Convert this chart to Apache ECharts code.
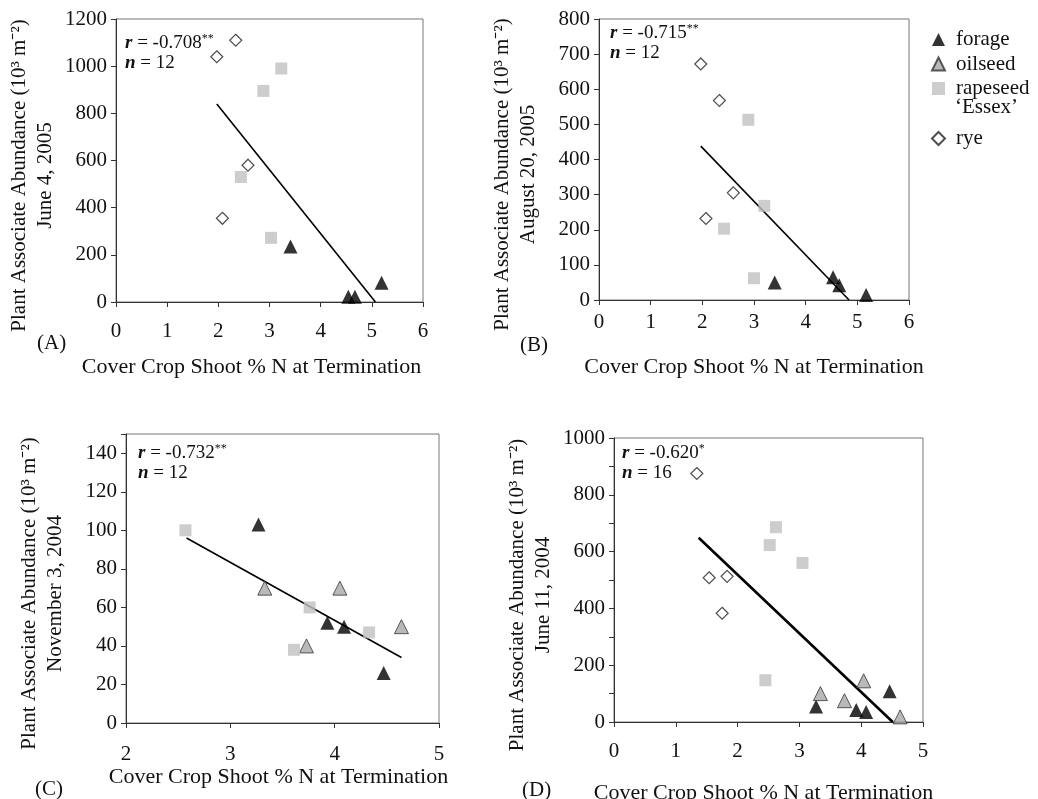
<!DOCTYPE html>
<html>
<head>
<meta charset="utf-8">
<script src="https://cdn.jsdelivr.net/npm/echarts@6/dist/echarts.min.js"></script>
<style>
html, body { margin: 0; background: #fff; }
#chart { width: 1038px; height: 799px; }
</style>
</head>
<body>
<div id="chart"></div>
<script>
// panel A - June 4, 2005
const aForage = [[3.41, 235], [4.54, 22], [4.67, 22], [5.19, 82]];
const aRapeseed = [[3.23, 990], [2.88, 895], [2.44, 530], [3.03, 272]];
const aRye = [[1.97, 1040], [2.34, 1110], [2.58, 580], [2.08, 355]];
const aTrend = [[1.97, 840], [5.07, 0]];

// panel B - August 20, 2005
const bForage = [[3.40, 50], [4.53, 65], [4.65, 42], [5.17, 14]];
const bRapeseed = [[2.89, 513], [3.20, 268], [2.42, 203], [3.00, 62]];
const bRye = [[1.97, 672], [2.33, 568], [2.60, 305], [2.07, 232]];
const bTrend = [[1.97, 438], [4.84, 0]];

// panel C - November 3, 2004
const cForage = [[3.27, 103], [3.93, 52], [4.09, 50], [4.47, 26]];
const cOilseed = [[3.33, 70], [4.05, 70], [3.73, 40], [4.64, 50]];
const cRapeseed = [[2.57, 100], [3.76, 60], [3.61, 38], [4.33, 47]];
const cTrend = [[2.58, 96], [4.64, 34]];

// panel D - June 11, 2004
const dForage = [[3.27, 55], [3.92, 42], [4.08, 35], [4.46, 108]];
const dOilseed = [[4.04, 145], [3.34, 100], [3.73, 75], [4.63, 18]];
const dRapeseed = [[2.62, 686], [2.52, 623], [3.05, 560], [2.45, 147]];
const dRye = [[1.34, 875], [1.54, 508], [1.83, 513], [1.75, 383]];
const dTrend = [[1.37, 649], [4.51, 0]];

const FONT = 'Liberation Serif';
const yTitle = 'Plant Associate Abundance (10³ m⁻²)';
const xTitle = 'Cover Crop Shoot % N at Termination';

const symbols = {
    forage: { symbol: 'triangle', symbolSize: 14, itemStyle: { color: '#000' } },
    oilseed: { symbol: 'triangle', symbolSize: 14, itemStyle: { color: '#a8a8a8', borderColor: '#333', borderWidth: 1 } },
    rapeseed: { symbol: 'rect', symbolSize: 12, itemStyle: { color: '#c0c0c0' } },
    rye: { symbol: 'diamond', symbolSize: 12, itemStyle: { color: '#fff', borderColor: '#222', borderWidth: 1.2 } }
};

function pts(name, data, idx) {
    const s = symbols[name];
    return {
        name: name, type: 'scatter', xAxisIndex: idx, yAxisIndex: idx,
        symbol: s.symbol, symbolSize: s.symbolSize, itemStyle: s.itemStyle,
        data: data, silent: true, z: 3
    };
}

function trend(data, idx, w) {
    return {
        type: 'line', xAxisIndex: idx, yAxisIndex: idx, data: data,
        symbol: 'none', silent: true, z: 2,
        lineStyle: { color: '#000', width: w }
    };
}

// shift = horizontal offset of the axis title (px, negative = left)
function xAx(idx, min, max, gap, margin, shift) {
    return {
        type: 'value', gridIndex: idx, min: min, max: max, interval: 1,
        name: xTitle, nameLocation: 'middle', nameGap: gap,
        nameTextStyle: {
            fontFamily: FONT, fontSize: 22, color: '#111',
            padding: shift < 0 ? [0, -2 * shift, 0, 0] : [0, 0, 0, 2 * shift]
        },
        axisLine: { lineStyle: { color: '#333', width: 1 } },
        axisTick: { show: true, length: 5, lineStyle: { color: '#333' } },
        axisLabel: { fontFamily: FONT, fontSize: 21, color: '#111', margin: margin },
        splitLine: { show: false }
    };
}

function yAx(idx, max, interval, sub, fmt) {
    return {
        type: 'value', gridIndex: idx, min: 0, max: max, interval: interval,
        name: yTitle + '\n' + sub, nameLocation: 'middle', nameRotate: 90, nameGap: 58,
        nameTextStyle: { fontFamily: FONT, fontSize: 21, color: '#111', lineHeight: 26, padding: [0, 30, 0, 0] },
        axisLine: { show: true, lineStyle: { color: '#333', width: 1 } },
        axisTick: { show: true, length: 5, lineStyle: { color: '#333' } },
        axisLabel: { fontFamily: FONT, fontSize: 21, color: '#111', margin: 9, formatter: fmt || (v => String(v)) },
        splitLine: { show: false }
    };
}

const richStyle = {
    i: { fontFamily: FONT, fontSize: 19, fontStyle: 'italic', fontWeight: 'bold', color: '#111' },
    s: { fontFamily: FONT, fontSize: 12, color: '#111', padding: [0, 0, 9, 0] }
};

function note(x, y, r, stars, n) {
    return [
        { type: 'text', left: x, top: y, style: { text: '{i|r} = -' + r + '{s|' + stars + '}', rich: richStyle, font: '19px ' + FONT, fill: '#111' } },
        { type: 'text', left: x, top: y + 21, style: { text: '{i|n} = ' + n, rich: richStyle, font: '19px ' + FONT, fill: '#111' } }
    ];
}

function label(x, y, t) {
    return { type: 'text', left: x, top: y, style: { text: t, font: '21px ' + FONT, fill: '#111' } };
}

const legendText = { fontFamily: FONT, fontSize: 21, lineHeight: 21, color: '#111', padding: [0, 0, 0, 6] };

const chart = echarts.init(document.getElementById('chart'));

chart.setOption({
    backgroundColor: '#fff',
    animation: false,
    grid: [
        { left: 116, top: 19, width: 307, height: 283 },
        { left: 599, top: 19, width: 310, height: 281 },
        { left: 126, top: 434, width: 313, height: 289 },
        { left: 614, top: 438, width: 309, height: 284 }
    ].map(g => Object.assign(g, {
        show: true, borderColor: '#777', borderWidth: 1, backgroundColor: 'transparent',
        containLabel: false, outerBoundsMode: 'none'
    })),
    xAxis: [
        xAx(0, 0, 6, 54, 19, -18),
        xAx(1, 0, 6, 56, 12, 0),
        xAx(2, 2, 5, 36, 21, -4),
        xAx(3, 0, 5, 60, 19, -5)
    ],
    yAxis: [
        yAx(0, 1200, 200, 'June 4, 2005'),
        yAx(1, 800, 100, 'August 20, 2005'),
        yAx(2, 150, 20, 'November 3, 2004', v => (v > 140 ? '' : String(v))),
        yAx(3, 1000, 100, 'June 11, 2004', v => (v % 200 === 0 ? String(v) : ''))
    ],
    legend: [
        {
            data: ['forage', 'oilseed', 'rapeseed'], orient: 'vertical', left: 926, top: 24,
            itemWidth: 13, itemHeight: 13, itemGap: 3.5, selectedMode: false,
            textStyle: legendText
        },
        {
            data: ['rye'], orient: 'vertical', left: 926, top: 123,
            itemWidth: 13, itemHeight: 13, selectedMode: false,
            textStyle: legendText
        }
    ],
    graphic: [
        ...note(125, 33, '0.708', '**', 12),
        ...note(610, 23, '0.715', '**', 12),
        ...note(138, 443, '0.732', '**', 12),
        ...note(622, 443, '0.620', '*', 16),
        label(37, 333, '(A)'),
        label(520, 335, '(B)'),
        label(35, 779, '(C)'),
        label(522, 780, '(D)'),
        { type: 'text', left: 955, top: 97, style: { text: '\u2018Essex\u2019', font: '21px ' + FONT, fill: '#111' } }
    ],
    series: [
        trend(aTrend, 0, 1.6),
        pts('forage', aForage, 0),
        pts('rapeseed', aRapeseed, 0),
        pts('rye', aRye, 0),

        trend(bTrend, 1, 1.6),
        pts('forage', bForage, 1),
        pts('rapeseed', bRapeseed, 1),
        pts('rye', bRye, 1),

        trend(cTrend, 2, 1.6),
        pts('forage', cForage, 2),
        pts('oilseed', cOilseed, 2),
        pts('rapeseed', cRapeseed, 2),

        trend(dTrend, 3, 2.6),
        pts('forage', dForage, 3),
        pts('oilseed', dOilseed, 3),
        pts('rapeseed', dRapeseed, 3),
        pts('rye', dRye, 3)
    ]
});
</script>
</body>
</html>
